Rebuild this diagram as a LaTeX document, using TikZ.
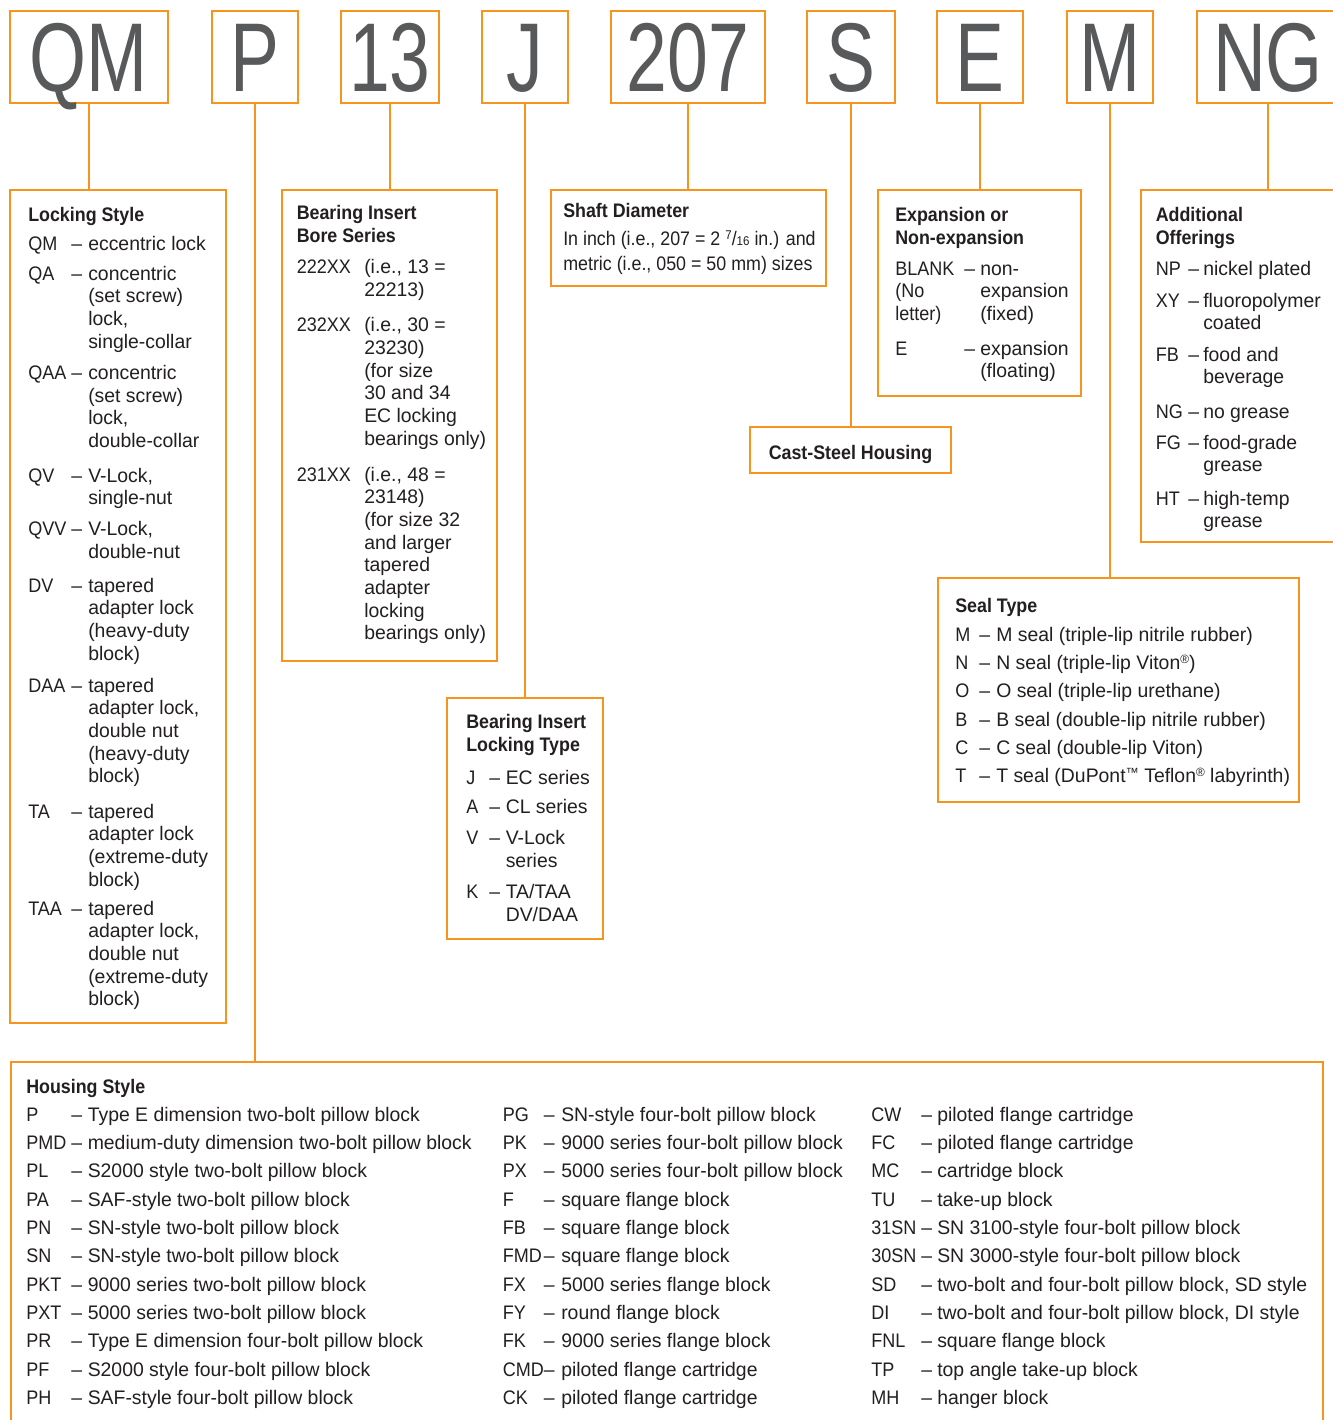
\documentclass[tikz,border=0pt]{standalone}
\usepackage{fontspec}
\setmainfont{Liberation Sans}
\newfontfamily\bodyfam{Liberation Sans}[FakeStretch=0.99]
\newfontfamily\narfam{Liberation Sans}[FakeStretch=0.91]
\newfontfamily\hdfam{Liberation Sans}[FakeStretch=0.91]
\newfontfamily\bigfam{Liberation Sans}[FakeStretch=0.75]
\newfontfamily\codefam{Liberation Sans}[FakeStretch=0.92]
\usetikzlibrary{fit}
\definecolor{org}{HTML}{F7941D}
\definecolor{ink}{HTML}{231F20}
\definecolor{gry}{HTML}{58595B}
\newcommand\bodyf{\bodyfam\fontsize{14.7}{17}\selectfont}
\newcommand\narf{\narfam\fontsize{14.7}{17}\selectfont}
\newcommand\codef{\codefam\fontsize{14.7}{17}\selectfont}
\newcommand\hdf{\hdfam\bfseries\fontsize{14.7}{17.5}\selectfont}
\newcommand\bigf{\bigfam\fontsize{73.3}{80}\selectfont}
\newcommand\tl[1]{\begin{tabular}[t]{@{}l@{}}#1\end{tabular}}
\newcommand\reg{\raisebox{0.6ex}{\fontsize{9}{9}\selectfont ®}}
\newcommand\tmk{\raisebox{0.55ex}{\fontsize{10}{10}\selectfont ™}}
\newcommand\ent[7]{%
  \node[code] (#1c) at (#3,#2) {#6};
  \node[txt] (#1d) at (#4,#2) {–};
  \node[txt] (#1t) at (#5,#2) {\tl{#7}};}
\tikzset{
  box/.style={draw=org, line width=1pt, inner sep=0pt},
  conn/.style={draw=org, line width=1pt},
  txt/.style={anchor=base west, inner sep=0pt, text=ink, font=\bodyf},
  code/.style={anchor=base west, inner sep=0pt, text=ink, font=\codef},
  hd/.style={anchor=base west, inner sep=0pt, text=ink, font=\hdf},
  big/.style={anchor=base, inner sep=0pt, text=gry, font=\bigf},
}
\begin{document}
\begin{tikzpicture}[x=0.75pt,y=-0.75pt]
\useasboundingbox (0,0) rectangle (1333,1420);
\fill[white] (0,0) rectangle (1333,1420);
\clip (0,0) rectangle (1333,1420);

% ---- top code boxes
\node[box, fit={(10,11)(168,103)}] (qm) {};
\node[box, fit={(212,11)(298,103)}] (p) {};
\node[box, fit={(341,11)(439,103)}] (b13) {};
\node[box, fit={(482,11)(568,103)}] (j) {};
\node[box, fit={(611,11)(765,103)}] (n207) {};
\node[box, fit={(807,11)(895,103)}] (s) {};
\node[box, fit={(937,11)(1023,103)}] (e) {};
\node[box, fit={(1067,11)(1153,103)}] (m) {};
\node[box, fit={(1197,11)(1339,103)}] (ng) {};

\node[big] (qmt) at (qm.center |- 0,92) {QM};
\node[big] (pt) at (p.center |- 0,92) {P};
\node[big] (b13t) at (b13.center |- 0,92) {13};
\node[big] (jt) at (j.center |- 0,92) {J};
\node[big] (n207t) at (n207.center |- 0,92) {207};
\node[big] (st) at (s.center |- 0,92) {S};
\node[big] (et) at (e.center |- 0,92) {E};
\node[big] (mt) at (m.center |- 0,92) {M};
\node[big] (ngt) at (ng.center |- 0,92) {NG};

% ---- description boxes
\node[box, fit={(10,190)(226,1023)}] (lock) {};
\node[box, fit={(282,190)(497,661)}] (bore) {};
\node[box, fit={(551,190)(826,286)}] (shaft) {};
\node[box, fit={(878,190)(1081,396)}] (expn) {};
\node[box, fit={(1141,190)(1350,542)}] (addl) {};
\node[box, fit={(750,427)(951,473)}] (cast) {};
\node[box, fit={(938,578)(1299,802)}] (seal) {};
\node[box, fit={(447,698)(603,939)}] (ltype) {};
\node[box, fit={(11,1062)(1323,1450)}] (house) {};

% ---- connectors
\draw[conn] (qm.south) -- (qm.south |- lock.north);
\draw[conn] (p.south) -- (p.south |- house.north);
\draw[conn] (b13.south) -- (b13.south |- bore.north);
\draw[conn] (j.south) -- (j.south |- ltype.north);
\draw[conn] (n207.south) -- (n207.south |- shaft.north);
\draw[conn] (s.south) -- (s.south |- cast.north);
\draw[conn] (e.south) -- (e.south |- expn.north);
\draw[conn] (m.south) -- (m.south |- seal.north);
\draw[conn] (ng.south) -- (ng.south |- addl.north);

% ---- Locking Style
\node[hd] (lockh) at (28,221) {Locking Style};
\ent{l1}{250}{28}{71}{88}{QM}{eccentric lock}
\ent{l2}{280}{28}{71}{88}{QA}{concentric\\(set screw)\\lock,\\single-collar}
\ent{l3}{379.5}{28}{71}{88}{QAA}{concentric\\(set screw)\\lock,\\double-collar}
\ent{l4}{482}{28}{71}{88}{QV}{V-Lock,\\single-nut}
\ent{l5}{535.5}{28}{71}{88}{QVV}{V-Lock,\\double-nut}
\ent{l6}{592}{28}{71}{88}{DV}{tapered\\adapter lock\\(heavy-duty\\block)}
\ent{l7}{692}{28}{71}{88}{DAA}{tapered\\adapter lock,\\double nut\\(heavy-duty\\block)}
\ent{l8}{818}{28}{71}{88}{TA}{tapered\\adapter lock\\(extreme-duty\\block)}
\ent{l9}{915}{28}{71}{88}{TAA}{tapered\\adapter lock,\\double nut\\(extreme-duty\\block)}

% ---- Bearing Insert Bore Series
\node[hd] (boreh) at (296.5,219.5) {\tl{Bearing Insert\\Bore Series}};
\node[code] (b1c) at (296.5,273.5) {222XX};
\node[txt] (b1t) at (364,273.5) {\tl{(i.e., 13 =\\22213)}};
\node[code] (b2c) at (296.5,331.7) {232XX};
\node[txt] (b2t) at (364,331.7) {\tl{(i.e., 30 =\\23230)\\(for size\\30 and 34\\EC locking\\bearings only)}};
\node[code] (b3c) at (296.5,481) {231XX};
\node[txt] (b3t) at (364,481) {\tl{(i.e., 48 =\\23148)\\(for size 32\\and larger\\tapered\\adapter\\locking\\bearings only)}};

% ---- Shaft Diameter
\node[hd] (shafth) at (563,217.5) {Shaft Diameter};
\node[txt, font=\narf] (sh1) at (563,245) {In inch (i.e., 207 = 2 \raisebox{0.55ex}{\fontsize{9.5}{9.5}\selectfont 7}/{\fontsize{9.5}{9.5}\selectfont 16} in.) and};
\node[txt, font=\narf] (sh2) at (563,270) {metric (i.e., 050 = 50 mm) sizes};

% ---- Expansion
\node[hd] (expnh) at (895,221) {\tl{Expansion or\\Non-expansion}};
\node[code] (x1c) at (895,275) {\tl{BLANK\\(No\\letter)}};
\node[txt] (x1d) at (964,275) {–};
\node[txt] (x1t) at (980,275) {\tl{non-\\expansion\\(fixed)}};
\ent{x2}{355}{895}{964}{980}{E}{expansion\\(floating)}

% ---- Additional Offerings
\node[hd] (addlh) at (1155.5,221) {\tl{Additional\\Offerings}};
\ent{a1}{275}{1155.5}{1188}{1203}{NP}{nickel plated}
\ent{a2}{307}{1155.5}{1188}{1203}{XY}{fluoropolymer\\coated}
\ent{a3}{361}{1155.5}{1188}{1203}{FB}{food and\\beverage}
\ent{a4}{418}{1155.5}{1188}{1203}{NG}{no grease}
\ent{a5}{449}{1155.5}{1188}{1203}{FG}{food-grade\\grease}
\ent{a6}{505}{1155.5}{1188}{1203}{HT}{high-temp\\grease}

% ---- Cast-Steel Housing
\node[hd, anchor=base] (castt) at (cast.center |- 0,459) {Cast-Steel Housing};

% ---- Seal Type
\node[hd] (sealh) at (955,612) {Seal Type};
\ent{s1}{641}{955}{979}{996}{M}{M seal (triple-lip nitrile rubber)}
\ent{s2}{669.3}{955}{979}{996}{N}{N seal (triple-lip Viton\reg)}
\ent{s3}{697.7}{955}{979}{996}{O}{O seal (triple-lip urethane)}
\ent{s4}{726}{955}{979}{996}{B}{B seal (double-lip nitrile rubber)}
\ent{s5}{754.3}{955}{979}{996}{C}{C seal (double-lip Viton)}
\ent{s6}{782.7}{955}{979}{996}{T}{T seal (DuPont\tmk\ Teflon\reg\ labyrinth)}

% ---- Bearing Insert Locking Type
\node[hd] (ltypeh) at (466,728.5) {\tl{Bearing Insert\\Locking Type}};
\ent{t1}{784}{466}{489}{505.5}{J}{EC series}
\ent{t2}{813.5}{466}{489}{505.5}{A}{CL series}
\ent{t3}{844.5}{466}{489}{505.5}{V}{V-Lock\\series}
\ent{t4}{898.5}{466}{489}{505.5}{K}{TA/TAA\\DV/DAA}

% ---- Housing Style
\node[hd] (househ) at (26,1093) {Housing Style};
\ent{h1}{1121}{26}{71}{87.5}{P}{Type E dimension two-bolt pillow block}
\ent{h2}{1149.3}{26}{71}{87.5}{PMD}{medium-duty dimension two-bolt pillow block}
\ent{h3}{1177.7}{26}{71}{87.5}{PL}{S2000 style two-bolt pillow block}
\ent{h4}{1206}{26}{71}{87.5}{PA}{SAF-style two-bolt pillow block}
\ent{h5}{1234.3}{26}{71}{87.5}{PN}{SN-style two-bolt pillow block}
\ent{h6}{1262.7}{26}{71}{87.5}{SN}{SN-style two-bolt pillow block}
\ent{h7}{1291}{26}{71}{87.5}{PKT}{9000 series two-bolt pillow block}
\ent{h8}{1319.3}{26}{71}{87.5}{PXT}{5000 series two-bolt pillow block}
\ent{h9}{1347.7}{26}{71}{87.5}{PR}{Type E dimension four-bolt pillow block}
\ent{h10}{1376}{26}{71}{87.5}{PF}{S2000 style four-bolt pillow block}
\ent{h11}{1404.3}{26}{71}{87.5}{PH}{SAF-style four-bolt pillow block}

\ent{h12}{1121}{502.5}{543.5}{561}{PG}{SN-style four-bolt pillow block}
\ent{h13}{1149.3}{502.5}{543.5}{561}{PK}{9000 series four-bolt pillow block}
\ent{h14}{1177.7}{502.5}{543.5}{561}{PX}{5000 series four-bolt pillow block}
\ent{h15}{1206}{502.5}{543.5}{561}{F}{square flange block}
\ent{h16}{1234.3}{502.5}{543.5}{561}{FB}{square flange block}
\ent{h17}{1262.7}{502.5}{543.5}{561}{FMD}{square flange block}
\ent{h18}{1291}{502.5}{543.5}{561}{FX}{5000 series flange block}
\ent{h19}{1319.3}{502.5}{543.5}{561}{FY}{round flange block}
\ent{h20}{1347.7}{502.5}{543.5}{561}{FK}{9000 series flange block}
\ent{h21}{1376}{502.5}{543.5}{561}{CMD}{piloted flange cartridge}
\ent{h22}{1404.3}{502.5}{543.5}{561}{CK}{piloted flange cartridge}

\ent{h23}{1121}{871}{921}{937}{CW}{piloted flange cartridge}
\ent{h24}{1149.3}{871}{921}{937}{FC}{piloted flange cartridge}
\ent{h25}{1177.7}{871}{921}{937}{MC}{cartridge block}
\ent{h26}{1206}{871}{921}{937}{TU}{take-up block}
\ent{h27}{1234.3}{871}{921}{937}{31SN}{SN 3100-style four-bolt pillow block}
\ent{h28}{1262.7}{871}{921}{937}{30SN}{SN 3000-style four-bolt pillow block}
\ent{h29}{1291}{871}{921}{937}{SD}{two-bolt and four-bolt pillow block, SD style}
\ent{h30}{1319.3}{871}{921}{937}{DI}{two-bolt and four-bolt pillow block, DI style}
\ent{h31}{1347.7}{871}{921}{937}{FNL}{square flange block}
\ent{h32}{1376}{871}{921}{937}{TP}{top angle take-up block}
\ent{h33}{1404.3}{871}{921}{937}{MH}{hanger block}
\end{tikzpicture}
\end{document}
